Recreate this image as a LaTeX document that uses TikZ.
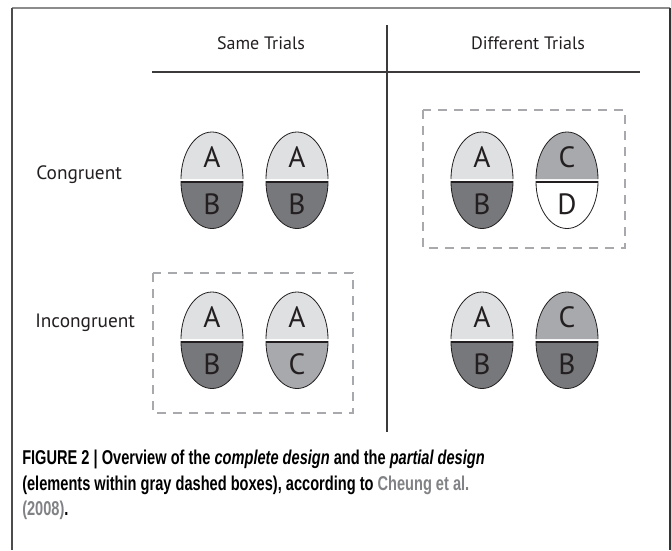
\documentclass[tikz,border=0pt]{standalone}
\usepackage{fontspec}
\setmainfont{PT Sans}
\newfontfamily\capfont[FakeStretch=0.73]{Liberation Sans}
\usetikzlibrary{positioning}
\usepackage{xcolor}
\definecolor{eggLight}{HTML}{DFE0E2}
\definecolor{eggMid}{HTML}{A7A9AC}
\definecolor{eggDark}{HTML}{77787B}
\definecolor{eggLine}{HTML}{231F20}
\definecolor{ruleDark}{HTML}{3C3A3B}
\definecolor{boxGray}{HTML}{A7A9AC}
\definecolor{capGray}{HTML}{808285}

% one egg: name, centre, top letter, top fill, bottom letter, bottom fill
\newcommand{\egg}[6]{%
  \begin{scope}[shift={#2}]
    \fill[#4] (-31,1) .. controls (-31,27) and (-17.1,48) .. (0,48)
        .. controls (17.1,48) and (31,27) .. (31,1) -- cycle;
    \draw[eggline] (-31,1) .. controls (-31,27) and (-17.1,48) .. (0,48)
        .. controls (17.1,48) and (31,27) .. (31,1);
    \filldraw[fill=#6, eggline] (-31,-1.5) .. controls (-31,-27.5) and (-17.1,-48.5) .. (0,-48.5)
        .. controls (17.1,-48.5) and (31,-27.5) .. (31,-1.5) -- cycle;
    \draw[eggline, line width=1.5pt] (-31,-1.5) -- (31,-1.5);
    \node[letter] (#1-up) at (0,23) {#3};
    \node[letter] (#1-down) at (0,-24) {#5};
  \end{scope}%
}

\begin{document}
\begin{tikzpicture}[x=0.75pt,y=0.75pt]
    \tikzstyle{eggline}=[draw=eggLine, line width=0.6pt]
    \tikzstyle{letter}=[inner sep=0pt, text=eggLine, font=\fontsize{22}{22}\selectfont]
    \tikzstyle{header}=[inner sep=0pt, text=eggLine, font=\fontsize{13.5}{16}\selectfont]
    \tikzstyle{rowlabel}=[header, anchor=west, font=\fontsize{14.5}{16}\selectfont]
    \tikzstyle{rule}=[draw=ruleDark, line width=1.8pt]
    \tikzstyle{dashbox}=[draw=boxGray, line width=1pt, dash pattern=on 7pt off 5pt]
    \tikzstyle{capline}=[anchor=base west, inner sep=0pt, font=\capfont\bfseries\fontsize{15}{19}\selectfont]

    \useasboundingbox (0,0) rectangle (671,-550);

    % frame
    \draw[draw=black!45, line width=1.5pt] (12,-8) -- (670,-8);
    \draw[draw=black!70, line width=1.2pt] (12,-550) -- (12,-8);
    \draw[draw=black!80, line width=1.5pt] (670,-8) -- (670,-550);

    % column heads and the cross
    \node[header] (same) at (261,-43) {Same Trials};
    \node[header] (diff) at (528,-43) {Different Trials};
    \coordinate (h-l) at (152,-72);
    \coordinate (h-r) at (640,-72);
    \coordinate (v-t) at (387,-25);
    \coordinate (v-b) at (387,-432);
    \draw[rule] (h-l) -- (h-r);
    \draw[rule] (v-t) -- (v-b);

    % row labels
    \node[rowlabel] (cong) at (36,-175) {Congruent};
    \node[rowlabel] (incong) at (35,-323) {Incongruent};

    % the eggs
    \foreach \name/\px/\py/\up/\upfill/\down/\downfill in {
        sc1/212/180/A/eggLight/B/eggDark, sc2/297/180/A/eggLight/B/eggDark,
        dc1/482/180/A/eggLight/B/eggDark, dc2/567/180/C/eggMid/D/white,
        si1/212/340/A/eggLight/B/eggDark, si2/297/340/A/eggLight/C/eggMid,
        di1/482/340/A/eggLight/B/eggDark, di2/567/340/C/eggMid/B/eggDark}
        \egg{\name}{(\px,-\py)}{\up}{\upfill}{\down}{\downfill};

    % partial design
    \draw[dashbox] (423,-110) rectangle (625,-248);
    \draw[dashbox] (153,-273) rectangle (353,-413);

    % caption
    \node[capline] (cap-1) at (22,-464) {FIGURE 2 | Overview of the \textit{complete design} and the \textit{partial design}};
    \node[capline] (cap-2) at (22,-490) {(elements within gray dashed boxes), according to \textcolor{capGray}{Cheung et al.}};
    \node[capline] (cap-3) at (22,-515) {\textcolor{capGray}{(2008)}.};
\end{tikzpicture}
\end{document}
